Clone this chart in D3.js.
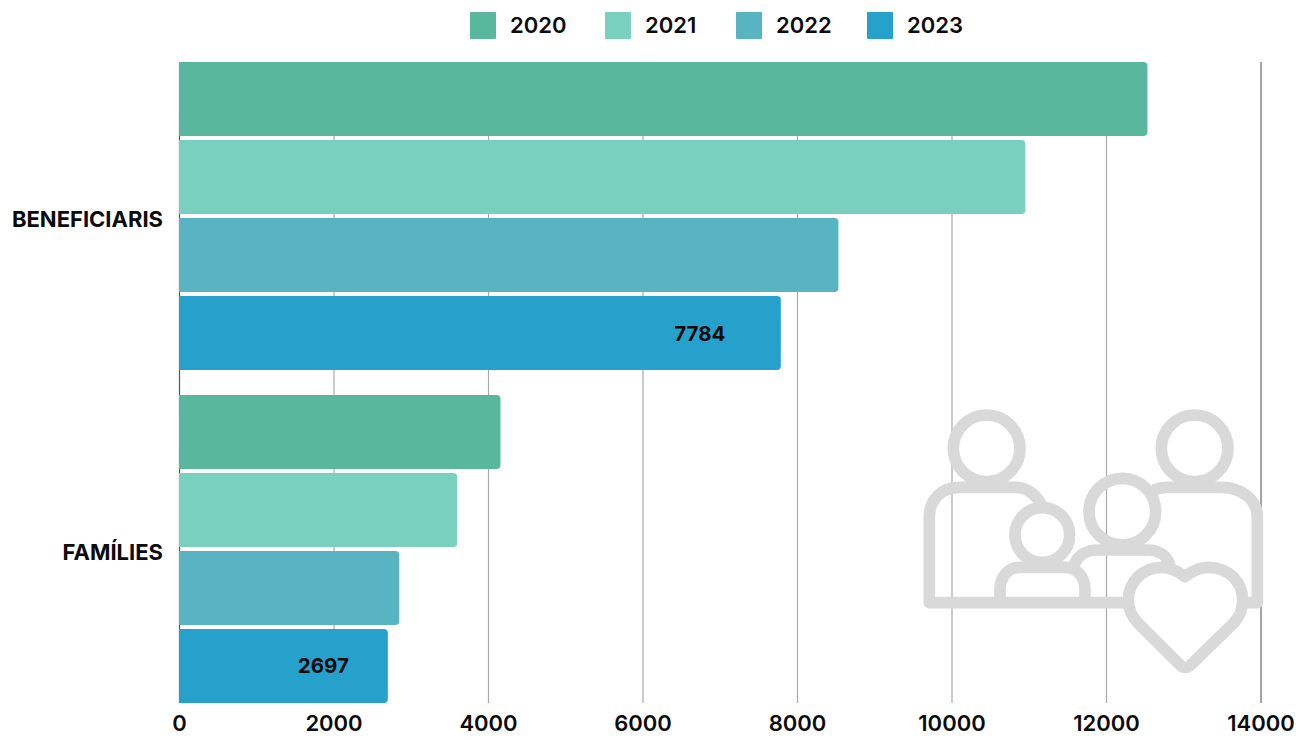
<!DOCTYPE html>
<html>
<head>
<meta charset="utf-8">
<script src="https://cdn.jsdelivr.net/npm/d3@7"></script>
<style>
  html, body { margin: 0; background: #fff; }
  text { font-family: Inter, "Open Sans", sans-serif; font-weight: 600; fill: #0b0b0b; }
</style>
</head>
<body>
<svg width="1312" height="740"></svg>
<script>
var categories = ["BENEFICIARIS", "FAMÍLIES"];
var years = ["2020", "2021", "2022", "2023"];
var colors = ["#58b79d", "#7ad0bf", "#58b4c0", "#26a1cb"];
var beneficiaris = [12530, 10950, 8530, 7784];
var families = [4155, 3595, 2845, 2697];
var ticks = [0, 2000, 4000, 6000, 8000, 10000, 12000, 14000];
var labelled = ["2023"]; // only the last year carries a value

var svg = d3.select("svg");

var x = d3.scaleLinear().domain([0, 14000]).range([179.5, 1261]);
var y0 = d3.scaleBand().domain(categories).range([62, 703]).paddingInner(0.075);
var y1 = d3.scaleBand().domain(years).range([0, y0.bandwidth()]).paddingInner(0.051);
var color = d3.scaleOrdinal().domain(years).range(colors);

// the value labels do not sit at a fixed distance from the bar end
var labelShift = d3.scaleOrdinal().domain(categories).range([81, 64.5]);
var legendX = d3.scaleOrdinal().domain(years).range([470, 605, 736, 867]);

// grid lines
svg.append("g").selectAll("line").data(ticks).enter().append("line")
    .attr("x1", function (d) { return x(d); })
    .attr("x2", function (d) { return x(d); })
    .attr("y1", 62)
    .attr("y2", 703)
    .attr("stroke", function (d) {
        if (d == 0) return "#555555";
        return d == 14000 ? "#8f8f8f" : "#a9a9a9";
    })
    .attr("stroke-width", function (d) { return d == 14000 ? 1.6 : 1.2; });

// bars, only the right end is rounded
var barPath = function (x0, x1, top, h) {
    var r = 4, p = d3.path();
    p.moveTo(x0, top);
    p.lineTo(x1 - r, top);
    p.arcTo(x1, top, x1, top + r, r);
    p.lineTo(x1, top + h - r);
    p.arcTo(x1, top + h, x1 - r, top + h, r);
    p.lineTo(x0, top + h);
    p.closePath();
    return p.toString();
};

[beneficiaris, families].forEach(function (values, c) {
    var g = svg.append("g").attr("transform", "translate(0," + y0(categories[c]) + ")");
    g.selectAll("path").data(values).enter().append("path")
        .attr("fill", function (d, i) { return color(years[i]); })
        .attr("d", function (d, i) {
            return barPath(x(0) - 0.5, x(d), y1(years[i]), y1.bandwidth());
        });

    g.selectAll("text").data(values).enter()
        .filter(function (d, i) { return labelled.indexOf(years[i]) >= 0; })
        .append("text")
        .text(function (d) { return d; })
        .attr("text-anchor", "middle")
        .attr("font-size", 20.5)
        .attr("font-weight", 700)
        .style("font-weight", 700)
        .attr("x", function (d) { return x(d) - labelShift(categories[c]); })
        .attr("y", y1("2023") + y1.bandwidth() / 2 + 7.5);

    svg.append("text")
        .text(categories[c])
        .attr("text-anchor", "end")
        .attr("font-size", 22)
        .style("font-weight", 700)
        .attr("x", 163)
        .attr("y", y0(categories[c]) + y0.bandwidth() / 2 + 11);
});

// x axis labels
svg.append("g").selectAll("text").data(ticks).enter().append("text")
    .text(function (d) { return d; })
    .attr("text-anchor", "middle")
    .attr("font-size", 22)
    .attr("x", function (d) { return x(d); })
    .attr("y", 731);

// legend
years.forEach(function (year) {
    svg.append("rect")
        .attr("x", legendX(year))
        .attr("y", 12)
        .attr("width", 26)
        .attr("height", 27)
        .attr("rx", 1)
        .attr("fill", color(year));
    svg.append("text")
        .text(year)
        .attr("font-size", 22)
        .attr("x", legendX(year) + 40)
        .attr("y", 33);
});

// family icon at 3x
var icon = svg.append("g")
    .attr("transform", "translate(900,390) scale(0.3333)")
    .attr("fill", "none")
    .attr("stroke", "#d9d9d9")
    .attr("stroke-width", 35)
    .attr("stroke-linejoin", "round");

[[260, 175, 100], [884, 175, 100], [667, 365, 100], [427, 435, 82]].forEach(function (h) {
    icon.append("circle").attr("cx", h[0]).attr("cy", h[1]).attr("r", h[2]);
});

[
    "M425,345 C405,310 380,292 345,292 H175 C125,292 88,330 88,380 V638 H680",
    "M760,300 C775,295 785,292 800,292 H965 C1025,292 1072,330 1072,380 V638 H1040",
    "M522,525 C535,495 560,480 590,480 H745 C775,480 800,495 810,525",
    "M300,625 V600 C300,560 325,532 360,532 H495 C530,532 555,560 555,600 V625",
    "M855,560 C830,540 810,532 785,532 C730,532 685,575 685,630 C685,660 695,680 715,700 L840,825 Q856,840 872,825 L1000,700 C1020,680 1028,655 1028,630 C1028,575 985,532 925,532 C900,532 880,540 855,560 Z"
].forEach(function (d) {
    icon.append("path").attr("d", d);
});
</script>
</body>
</html>
